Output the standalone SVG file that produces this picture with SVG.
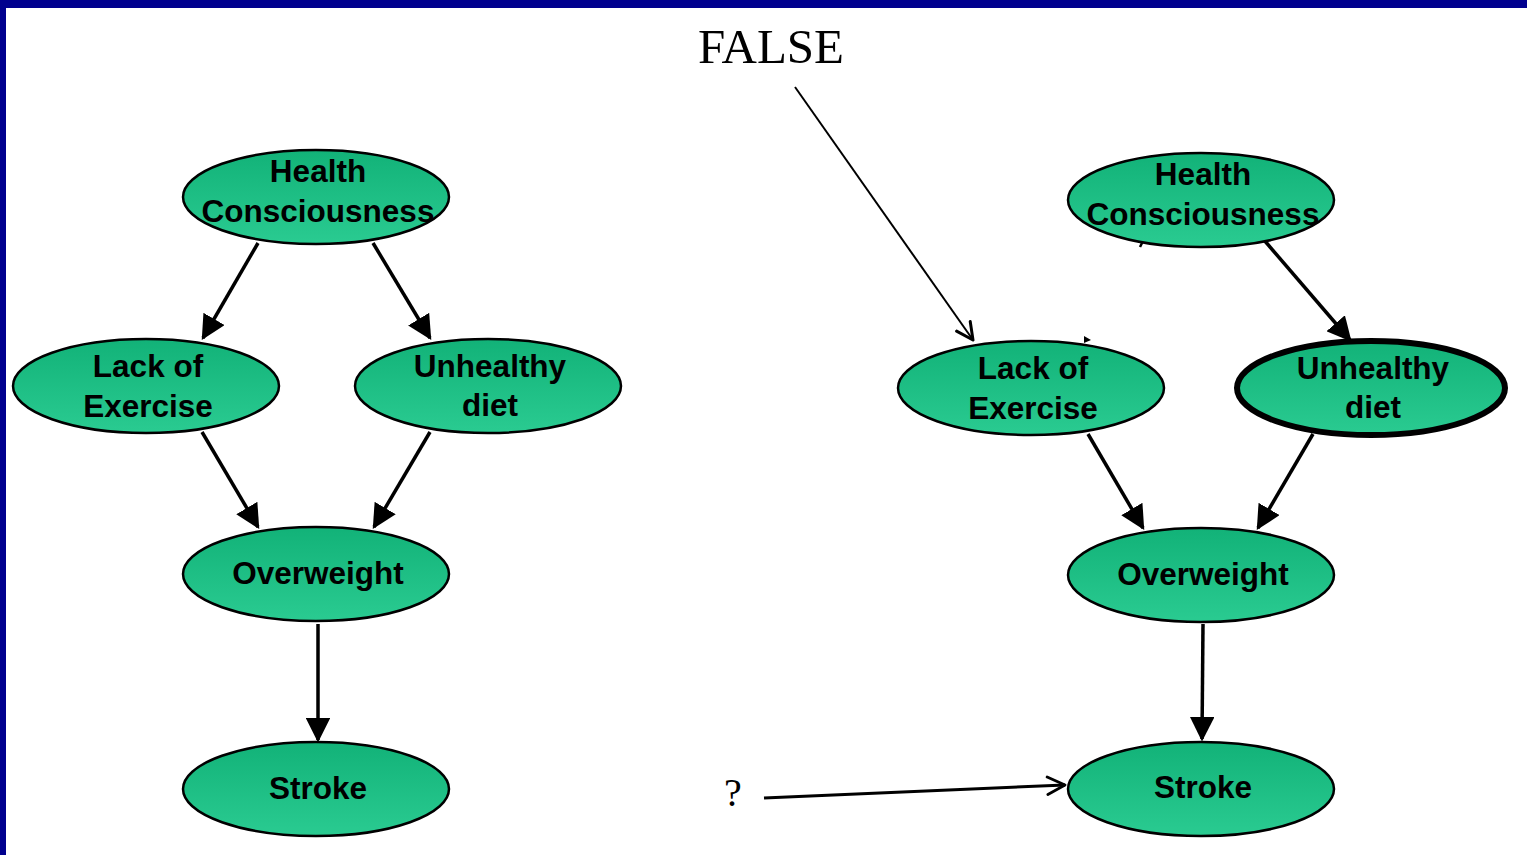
<svg xmlns="http://www.w3.org/2000/svg" width="1527" height="855" viewBox="0 0 1527 855">
  <defs>
    <linearGradient id="nodeFill" x1="0" y1="0" x2="0" y2="1">
      <stop offset="0" stop-color="#12b278"/>
      <stop offset="1" stop-color="#2acb91"/>
    </linearGradient>
    <marker id="solid" viewBox="0 0 10 10" refX="9" refY="5" markerWidth="7" markerHeight="7" orient="auto" markerUnits="strokeWidth">
      <path d="M0,0 L10,5 L0,10 Z" fill="#000"/>
    </marker>
    <marker id="open" viewBox="0 0 12 12" refX="11" refY="6" markerWidth="7" markerHeight="7" orient="auto" markerUnits="strokeWidth">
      <path d="M1,1 L11,6 L1,11" fill="none" stroke="#000" stroke-width="1.6" stroke-linecap="round" stroke-linejoin="round"/>
    </marker>
    <marker id="openThin" viewBox="0 0 12 12" refX="11" refY="6" markerWidth="10" markerHeight="10" orient="auto" markerUnits="strokeWidth">
      <path d="M1,1 L11,6 L1,11" fill="none" stroke="#000" stroke-width="1.8" stroke-linecap="round" stroke-linejoin="round"/>
    </marker>
  </defs>
  <style>
    .node ellipse { fill: url(#nodeFill); stroke: #000; stroke-width: 2.5; }
    .node text { font-family: "Liberation Sans", Arial, sans-serif; font-weight: bold; font-size: 31.5px; fill: #000; text-anchor: middle; }
    .edge { stroke: #000; stroke-width: 3.5; fill: none; marker-end: url(#solid); }
    .note { font-family: "Liberation Serif", "Times New Roman", serif; fill: #000; }
  </style>

  <!-- page frame -->
  <rect x="0" y="0" width="1527" height="855" fill="#fff"/>
  <rect x="0" y="0" width="1527" height="8" fill="#00008e"/>
  <rect x="0" y="0" width="6" height="855" fill="#00008e"/>

  <!-- connectors -->
  <g id="connectors">
    <line class="edge" x1="258" y1="243" x2="203" y2="338"/>
    <line class="edge" x1="373" y1="243" x2="430" y2="338"/>
    <line class="edge" x1="202" y1="432" x2="258" y2="527"/>
    <line class="edge" x1="430" y1="432" x2="374" y2="527"/>
    <line class="edge" x1="318" y1="624" x2="318" y2="740"/>

    <line class="edge" x1="1264" y1="240" x2="1350" y2="340"/>
    <line class="edge" x1="1088" y1="434" x2="1143" y2="528"/>
    <line class="edge" x1="1313" y1="434" x2="1258" y2="528"/>
    <line class="edge" x1="1203" y1="624" x2="1202" y2="739"/>

    <line x1="795" y1="87" x2="973" y2="340" stroke="#000" stroke-width="2" marker-end="url(#openThin)"/>
    <line x1="764" y1="798" x2="1065" y2="785" stroke="#000" stroke-width="3" marker-end="url(#open)"/>

    <!-- leftover stubs -->
    <path d="M1140,247 L1143,241" stroke="#000" stroke-width="2.5"/>
    <path d="M1084,336 L1091,340 L1084,343 Z" fill="#000"/>
  </g>

  <!-- left network -->
  <g id="hc-left" class="node">
    <ellipse cx="316" cy="197" rx="133" ry="47"/>
    <text x="318" y="182">Health</text>
    <text x="318" y="222">Consciousness</text>
  </g>
  <g id="le-left" class="node">
    <ellipse cx="146" cy="386" rx="133" ry="47"/>
    <text x="148" y="377">Lack of</text>
    <text x="148" y="417">Exercise</text>
  </g>
  <g id="ud-left" class="node">
    <ellipse cx="488" cy="386" rx="133" ry="47"/>
    <text x="490" y="377">Unhealthy</text>
    <text x="490" y="416">diet</text>
  </g>
  <g id="ow-left" class="node">
    <ellipse cx="316" cy="574" rx="133" ry="47"/>
    <text x="318" y="584">Overweight</text>
  </g>
  <g id="st-left" class="node">
    <ellipse cx="316" cy="789" rx="133" ry="47"/>
    <text x="318" y="799">Stroke</text>
  </g>

  <!-- right network -->
  <g id="hc-right" class="node">
    <ellipse cx="1201" cy="200" rx="133" ry="47"/>
    <text x="1203" y="185">Health</text>
    <text x="1203" y="225">Consciousness</text>
  </g>
  <g id="le-right" class="node">
    <ellipse cx="1031" cy="388" rx="133" ry="47"/>
    <text x="1033" y="379">Lack of</text>
    <text x="1033" y="419">Exercise</text>
  </g>
  <g id="ud-right" class="node">
    <ellipse cx="1371" cy="388" rx="134" ry="47" style="stroke-width:6"/>
    <text x="1373" y="379">Unhealthy</text>
    <text x="1373" y="418">diet</text>
  </g>
  <g id="ow-right" class="node">
    <ellipse cx="1201" cy="575" rx="133" ry="47"/>
    <text x="1203" y="585">Overweight</text>
  </g>
  <g id="st-right" class="node">
    <ellipse cx="1201" cy="789" rx="133" ry="47"/>
    <text x="1203" y="798">Stroke</text>
  </g>

  <!-- annotations -->
  <g id="labels">
    <text class="note" x="771" y="63" font-size="49" text-anchor="middle">FALSE</text>
    <text class="note" x="733" y="806" font-size="40" text-anchor="middle">?</text>
  </g>
</svg>
